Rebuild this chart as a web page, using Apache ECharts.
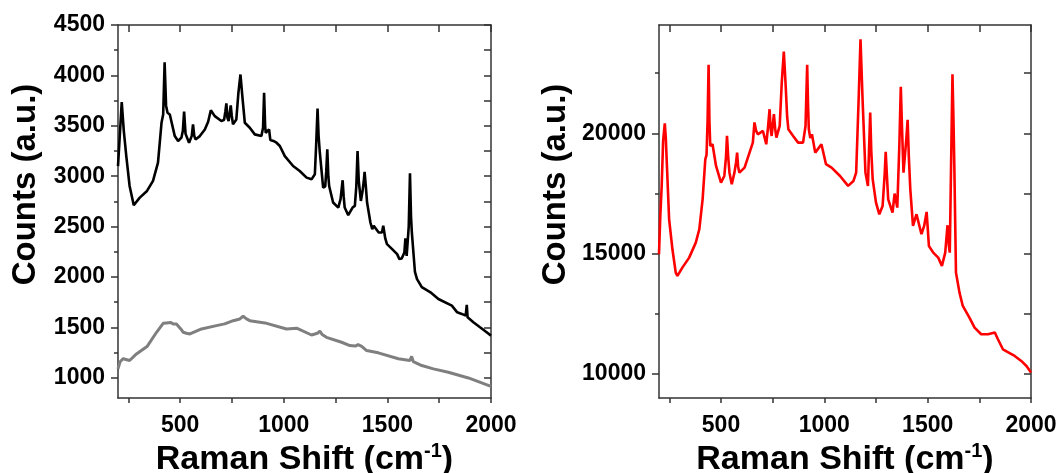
<!DOCTYPE html>
<html>
<head>
<meta charset="utf-8">
<script src="https://cdn.jsdelivr.net/npm/echarts@6/dist/echarts.min.js"></script>
<style>
html,body{margin:0;padding:0;background:#fff;}
#c{width:1064px;height:473px;}
</style>
</head>
<body>
<div id="c"></div>
<script>
// ---- Data ----
const blackX = [200,210,218,228,240,256,276,305,340,369,393,410,418,425,432,439,450,474,490,506,513,519,526,543,556,562,568,574,595,619,635,648,667,699,712,718,723,728,734,740,744,749,755,771,781,791,800,812,836,860,892,900,905,910,913,922,929,935,950,965,981,1005,1045,1077,1110,1134,1150,1156,1163,1168,1174,1190,1200,1205,1210,1215,1219,1238,1263,1274,1284,1289,1294,1311,1332,1343,1350,1356,1362,1372,1380,1386,1390,1396,1402,1418,1427,1434,1458,1474,1480,1490,1498,1523,1547,1558,1569,1582,1587,1593,1603,1609,1614,1618,1633,1643,1666,1708,1746,1811,1837,1859,1878,1883,1887,1915,1947,1979,2000];
const blackY = [3100,3450,3735,3450,3200,2903,2712,2788,2854,2953,3134,3530,3613,4131,3700,3630,3613,3398,3349,3382,3450,3640,3420,3332,3400,3514,3400,3365,3398,3464,3540,3655,3596,3547,3560,3640,3722,3580,3547,3640,3702,3600,3514,3563,3827,4009,3794,3530,3481,3415,3398,3480,3827,3500,3431,3420,3464,3360,3350,3332,3300,3200,3101,3052,2986,2969,3019,3300,3670,3400,3233,2887,2900,3050,3267,3000,2903,2739,2689,2772,2960,2800,2689,2613,2689,2706,2900,3250,2950,2755,2850,2950,3043,2900,2739,2541,2475,2508,2442,2442,2508,2380,2326,2277,2227,2178,2184,2244,2383,2210,2500,3030,2600,2442,2050,1980,1900,1848,1782,1716,1650,1634,1617,1723,1600,1551,1501,1452,1419];

const grayX = [200,210,216,225,232,256,265,289,340,386,418,434,442,455,466,482,490,505,515,530,547,603,675,715,756,788,804,820,836,909,1013,1062,1134,1150,1165,1174,1185,1206,1279,1319,1345,1359,1376,1400,1456,1553,1609,1617,1625,1666,1722,1794,1891,2000];
const grayY = [1089,1160,1172,1190,1181,1172,1172,1237,1310,1452,1541,1545,1540,1550,1534,1535,1534,1480,1452,1442,1435,1485,1518,1535,1567,1584,1611,1585,1567,1545,1485,1492,1425,1435,1445,1465,1430,1402,1353,1320,1315,1330,1313,1271,1248,1189,1172,1213,1160,1122,1089,1056,999,915];

const redX = [200,206,213,220,228,233,237,249,265,281,289,313,346,378,395,411,424,430,435,440,444,448,452,459,476,500,516,524,529,535,541,552,565,573,578,583,589,614,638,654,662,670,678,703,719,728,735,740,745,756,762,768,784,794,804,813,820,826,849,873,897,909,917,921,925,932,940,946,956,986,1008,1035,1076,1115,1141,1154,1166,1175,1185,1199,1211,1217,1222,1227,1234,1250,1266,1282,1292,1297,1303,1309,1330,1340,1353,1363,1370,1376,1383,1390,1397,1403,1409,1416,1429,1446,1454,1470,1483,1495,1506,1527,1551,1569,1585,1596,1603,1607,1613,1620,1625,1629,1637,1654,1670,1702,1727,1759,1792,1825,1840,1864,1890,1921,1953,1978,2000];
const redY = [14972,16500,17811,19700,20410,19800,18919,16426,15180,14210,14072,14418,14834,15457,16011,17257,18919,19100,20500,22850,20500,19473,19400,19543,18642,17950,18227,19000,19890,19000,18365,17885,18365,18800,19200,18600,18365,18573,19196,19612,20450,20100,19958,20097,19543,20300,21000,20200,19889,20794,20200,19820,20305,22105,23400,21967,20700,20166,19889,19612,19612,20305,22843,21200,20166,19800,19962,20028,19196,19547,18716,18573,18227,17813,18019,18365,21412,23905,21412,18365,17811,19500,20864,19300,18088,17119,16634,16980,18300,19227,18200,17257,16703,17497,16911,19500,21930,20200,18365,18400,19800,20557,19000,17673,16149,16637,16565,15806,16149,16733,15318,15041,14834,14490,15041,16180,15300,15041,18500,22456,20500,18642,14210,13379,12825,12341,11925,11648,11648,11720,11440,11025,10900,10748,10540,10332,10060];

const xTicks = [250,500,750,1000,1250,1500,1750,2000];
const xLabels = [500,1000,1500,2000];
const leftMajor = [1000,1500,2000,2500,3000,3500,4000,4500];
const leftMinor = [1250,1750,2250,2750,3250,3750,4250];
const rightMajor = [10000,15000,20000];
const rightMinor = [12500,17500,22500];

const xTitle = '{a|Raman Shift (cm}{s|-1}{a|)}';
const yTitle = 'Counts (a.u.)';

// ---- Build ----
function zip(xs, ys){ return xs.map((x,i)=>[x, ys[i]]); }
const FONT = "'Liberation Sans', Arial, Helvetica, sans-serif";
const AX = {color:'#333333', width:1.5};
const labelStyle = {fontFamily:FONT, fontWeight:'bold', fontSize:23, color:'#000', formatter:(v)=>String(v)};

function xAxesFor(g){
  return [
    {gridIndex:g, type:'value', position:'bottom', min:200, max:2000,
     axisLine:{show:true, onZero:false, lineStyle:AX},
     axisTick:{show:true, inside:false, length:5, customValues:xTicks, lineStyle:AX},
     axisLabel:Object.assign({customValues:xLabels, margin:16, showMaxLabel:true}, labelStyle),
     splitLine:{show:false},
     name:xTitle, nameLocation:'middle', nameGap:39,
     nameTextStyle:{rich:{
       a:{fontFamily:FONT, fontWeight:'bold', fontSize:34, color:'#000', lineHeight:36},
       s:{fontFamily:FONT, fontWeight:'bold', fontSize:20, color:'#000', lineHeight:36, verticalAlign:'top'}
     }}},
    {gridIndex:g, type:'value', position:'top', min:200, max:2000,
     axisLine:{show:true, onZero:false, lineStyle:AX},
     axisTick:{show:true, inside:true, length:7, customValues:xTicks, lineStyle:AX},
     axisLabel:{show:false}, splitLine:{show:false}}
  ];
}
function yAxesFor(g, min, max, major, minor, gap){
  const all = major.concat(minor).sort((a,b)=>a-b);
  return [
    {gridIndex:g, type:'value', position:'left', min:min, max:max,
     axisLine:{show:true, onZero:false, lineStyle:AX},
     axisTick:{show:true, inside:false, length:7, customValues:major, lineStyle:AX},
     axisLabel:Object.assign({customValues:major, margin:13}, labelStyle),
     splitLine:{show:false},
     name:yTitle, nameLocation:'middle', nameGap:gap, nameRotate:90,
     nameTextStyle:{fontFamily:FONT, fontWeight:'bold', fontSize:33, color:'#000', padding:[0,0,0,54]}},
    {gridIndex:g, type:'value', position:'left', min:min, max:max,
     axisLine:{show:false},
     axisTick:{show:true, inside:false, length:4, customValues:minor, lineStyle:AX},
     axisLabel:{show:false}, splitLine:{show:false}},
    {gridIndex:g, type:'value', position:'right', min:min, max:max,
     axisLine:{show:true, onZero:false, lineStyle:AX},
     axisTick:{show:true, inside:true, length:7, customValues:all, lineStyle:AX},
     axisLabel:{show:false}, splitLine:{show:false}}
  ];
}

const chart = echarts.init(document.getElementById('c'), null, {renderer:'canvas'});
chart.setOption({
  animation:false,
  backgroundColor:'#fff',
  grid:[
    {left:118, right:573, top:25, bottom:75, containLabel:false, outerBoundsMode:'none'},
    {left:659, right:33, top:25, bottom:75, containLabel:false, outerBoundsMode:'none'}
  ],
  xAxis: xAxesFor(0).concat(xAxesFor(1)),
  yAxis: yAxesFor(0, 800, 4500, leftMajor, leftMinor, 76).concat(yAxesFor(1, 9000, 24500, rightMajor, rightMinor, 87)),
  series:[
    {type:'line', xAxisIndex:0, yAxisIndex:0, data:zip(grayX, grayY), showSymbol:false, lineStyle:{color:'#7f7f7f', width:3}, z:2},
    {type:'line', xAxisIndex:0, yAxisIndex:0, data:zip(blackX, blackY), showSymbol:false, lineStyle:{color:'#000000', width:2.6}, z:3},
    {type:'line', xAxisIndex:2, yAxisIndex:3, data:zip(redX, redY), showSymbol:false, lineStyle:{color:'#ff0000', width:2.6}, z:3}
  ]
});
</script>
</body>
</html>
